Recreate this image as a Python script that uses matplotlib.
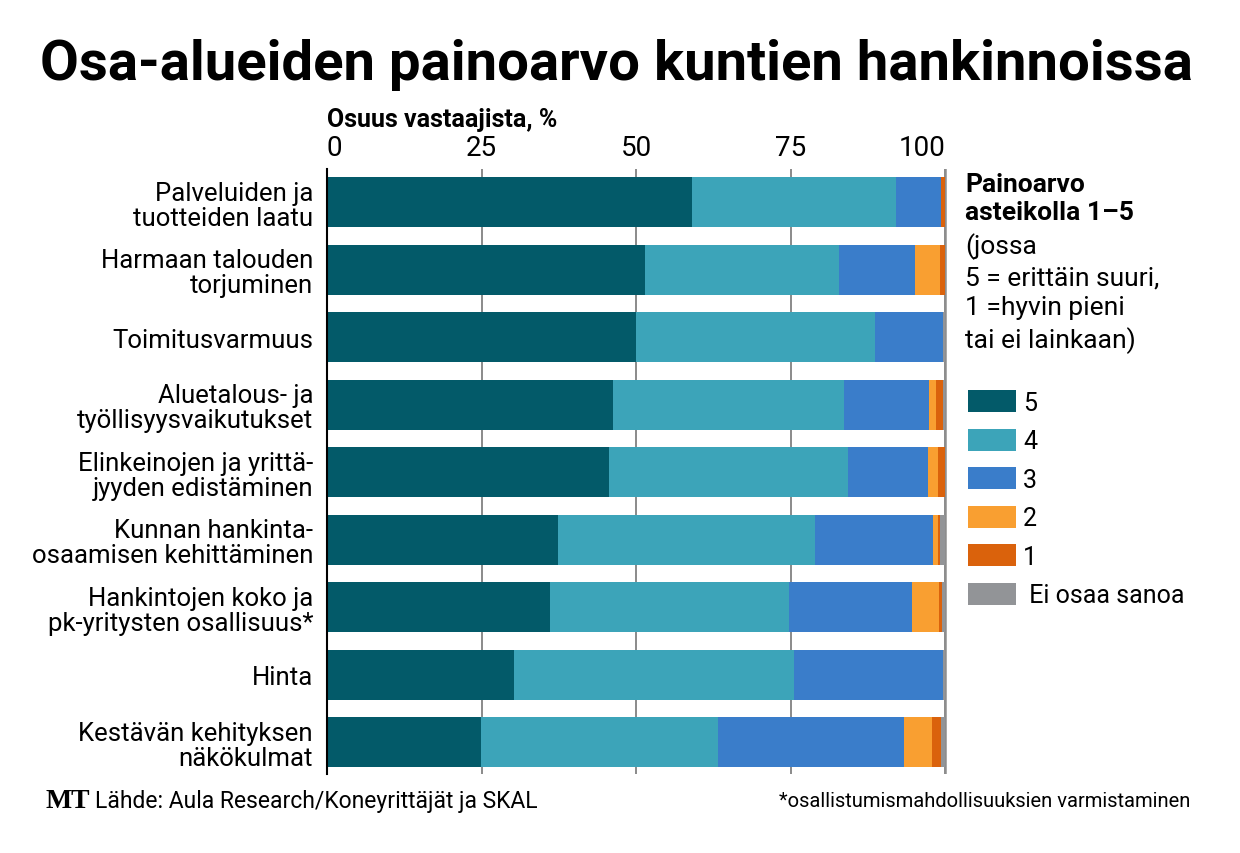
import numpy as np
import matplotlib.pyplot as plt

# kategoriat ja osuudet (%), luettu kuvasta
categories = ['Palveluiden ja\ntuotteiden laatu', 'Harmaan talouden\ntorjuminen',
              'Toimitusvarmuus', 'Aluetalous- ja\ntyöllisyysvaikutukset',
              'Elinkeinojen ja yrittä-\njyyden edistäminen', 'Kunnan hankinta-\nosaamisen kehittäminen',
              'Hankintojen koko ja\npk-yritysten osallisuus*', 'Hinta',
              'Kestävän kehityksen\nnäkökulmat']
s5 = [59.0, 51.5, 50.0, 46.3, 45.6, 37.4, 36.1, 30.3, 24.9]
s4 = [33.0, 31.3, 38.6, 37.4, 38.7, 41.5, 38.7, 45.2, 38.3]
s3 = [7.3, 12.3, 11.0, 13.7, 13.0, 19.1, 19.9, 24.1, 30.1]
s2 = [0.0, 4.0, 0.0, 1.1, 1.5, 0.8, 4.3, 0.0, 4.6]
s1 = [0.7, 0.9, 0.0, 1.1, 1.2, 0.4, 0.5, 0.0, 1.5]
eos = [0.0, 0.0, 0.4, 0.4, 0.0, 0.8, 0.5, 0.4, 0.6]
series_labels = ['5', '4', '3', '2', '1', ' Ei osaa sanoa']
colors = ['#035a69', '#3ca4b9', '#3a7dca', '#f99f31', '#da620c', '#929497']
xticks = [0, 25, 50, 75, 100]

plt.rcParams['font.family'] = ['Roboto', 'DejaVu Sans']

fig = plt.figure(figsize=(12.4, 8.54), dpi=100)
ax = fig.add_axes([327/1240, 1-775/854, 620/1240, 605/854])

y = np.arange(len(categories))
left = np.zeros(len(categories))
for vals, lab, col in zip([s5, s4, s3, s2, s1, eos], series_labels, colors):
    ax.barh(y, vals, left=left, height=0.74, color=col, label=lab, zorder=2)
    left += np.array(vals)

ax.set_xlim(0, 100.3)
ax.set_ylim(8.47, -0.49)
ax.xaxis.tick_top()
ax.set_xticks(xticks)
ax.set_xticklabels([str(t) for t in xticks], fontsize=20)
ax.get_xticklabels()[0].set_ha('left')
ax.get_xticklabels()[-1].set_ha('right')
ax.tick_params(axis='x', length=0, pad=6)
for t in xticks[1:]:
    ax.axvline(t, color='#777777', lw=1.2, zorder=1)
ax.axvline(100.3, color='#999999', lw=1.2, zorder=1)
ax.set_yticks(y)
ax.set_yticklabels(categories, fontsize=18.5, linespacing=1.05)
ax.tick_params(axis='y', length=0, pad=10)
for s in ['top', 'right', 'bottom']:
    ax.spines[s].set_visible(False)
ax.spines['left'].set_linewidth(1.5)

fig.text(40/1240, 1-65/854, 'Osa-alueiden painoarvo kuntien hankinnoissa',
         fontsize=40.5, fontweight='bold', va='center', ha='left')
fig.text(327/1240, 1-120/854, 'Osuus vastaajista, %', fontsize=18,
         fontweight='bold', va='center', ha='left')

fig.text(965/1240, 1-173/854, 'Painoarvo\nasteikolla 1–5', fontsize=19,
         fontweight='bold', va='top', ha='left', linespacing=1.22)
fig.text(965/1240, 1-233/854, '(jossa\n5 = erittäin suuri,\n1 =hyvin pieni\ntai ei lainkaan)',
         fontsize=19, va='top', ha='left', linespacing=1.33)

leg = fig.legend(loc='upper left', bbox_to_anchor=(958/1240, 1-381/854),
                 frameon=False, fontsize=18, handlelength=1.9, handleheight=1.0,
                 labelspacing=0.55, handletextpad=0.3, borderaxespad=0)

fig.text(45/1240, 1-802/854, 'MT', fontsize=20, fontweight='bold',
         family=['Liberation Serif', 'DejaVu Serif'], va='center', ha='left')
fig.text(95/1240, 1-802/854, 'Lähde: Aula Research/Koneyrittäjät ja SKAL',
         fontsize=16.5, va='center', ha='left')
fig.text(1190/1240, 1-802/854, '*osallistumismahdollisuuksien varmistaminen',
         fontsize=14.5, va='center', ha='right')

fig.savefig('out.png', dpi=100)
